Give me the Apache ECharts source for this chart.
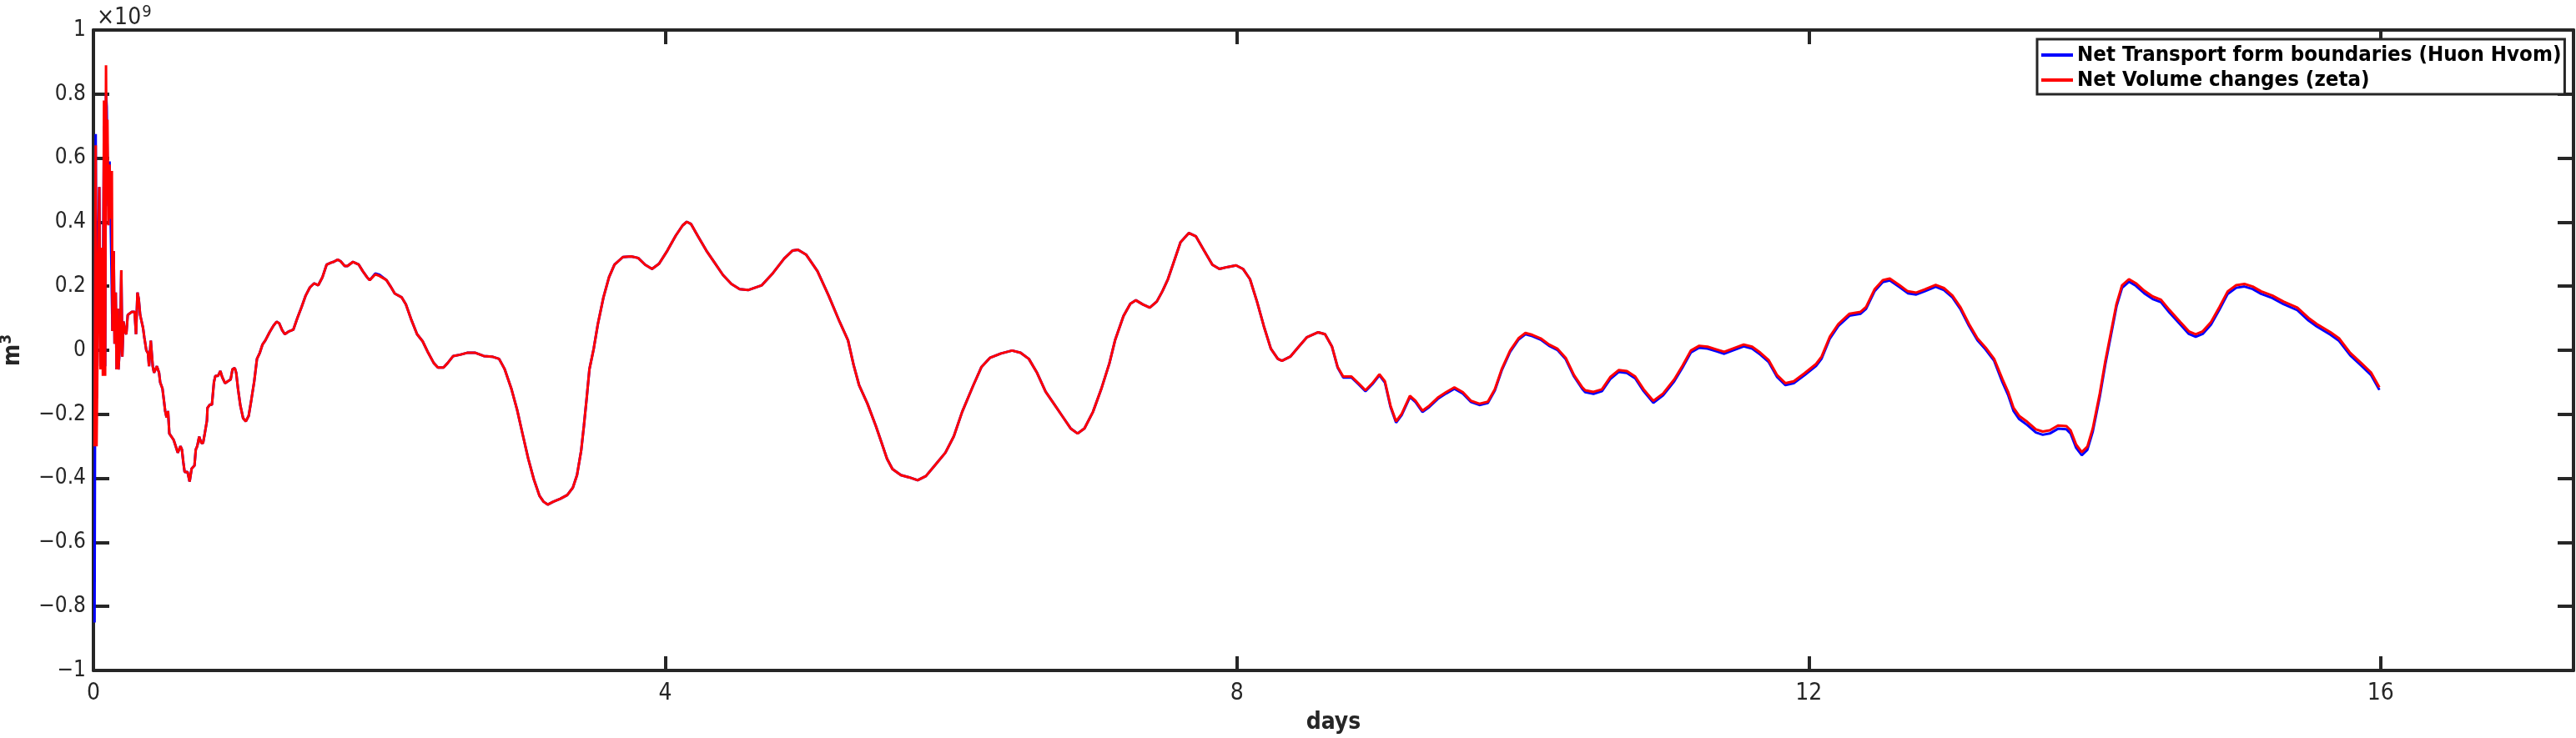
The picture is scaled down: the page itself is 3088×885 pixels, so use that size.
<!DOCTYPE html>
<html>
<head>
<meta charset="utf-8">
<script src="https://cdn.jsdelivr.net/npm/echarts@6/dist/echarts.min.js"></script>
<style>
html,body{margin:0;padding:0;background:#fff;}
#chart{width:3088px;height:885px;}
</style>
</head>
<body>
<div id="chart"></div>
<script>
// time in days
const days = [
0.008,0.016,0.022,0.031,0.041,0.049,0.058,0.066,0.074,0.082,
0.088,0.093,0.098,0.105,0.113,0.121,0.129,0.133,0.142,0.148,
0.156,0.162,0.171,0.175,0.187,0.195,0.202,0.210,0.220,0.230,
0.240,0.249,0.269,0.288,0.298,0.308,0.317,0.327,0.347,0.356,
0.370,0.382,0.389,0.401,0.415,0.424,0.444,0.459,0.467,0.483,
0.494,0.502,0.512,0.522,0.531,0.541,0.561,0.576,0.590,0.609,
0.619,0.629,0.638,0.658,0.673,0.687,0.707,0.716,0.726,0.740,
0.755,0.767,0.779,0.794,0.798,0.814,0.829,0.843,0.853,0.872,
0.888,0.901,0.921,0.940,0.960,0.973,0.989,0.999,1.012,1.028,
1.047,1.066,1.086,1.105,1.125,1.144,1.164,1.183,1.203,1.232,
1.257,1.281,1.300,1.320,1.339,1.368,1.398,1.427,1.456,1.485,
1.514,1.544,1.573,1.602,1.631,1.660,
1.680,1.709,1.729,1.758,1.777,1.816,1.855,1.884,1.914,1.933,
1.972,2.001,2.050,2.079,2.108,2.157,2.186,2.225,2.264,2.303,
2.342,2.381,2.410,2.449,2.478,2.517,2.565,2.614,2.672,2.731,
2.789,2.838,2.877,2.925,2.964,3.003,3.042,3.081,3.120,3.149,
3.178,3.217,3.266,3.315,3.354,3.383,3.412,3.431,3.451,3.470,
3.500,3.529,3.568,3.607,3.645,3.704,3.762,3.811,3.860,3.908,
3.957,4.015,4.074,4.122,4.151,4.181,4.229,4.288,4.346,4.404,
4.463,4.521,4.580,
4.676,4.754,4.832,4.890,4.929,4.987,5.065,5.143,5.221,5.279,
5.318,5.357,5.415,5.474,5.513,5.552,5.590,5.649,5.707,5.766,
5.824,5.882,5.960,6.019,6.077,6.155,6.213,6.271,6.349,6.427,
6.486,6.544,6.602,6.661,6.719,6.777,6.836,6.885,6.933,6.992,
7.050,7.108,7.147,7.206,7.254,7.293,7.342,7.390,7.439,7.478,
7.517,7.556,7.605,7.663,7.712,7.770,7.828,7.877,7.935,7.994,
8.042,8.091,8.140,8.188,8.237,8.286,8.315,8.373,8.432,8.490,
8.568,8.616,8.665,8.704,8.743,8.801,8.850,8.899,8.947,8.996,
9.035,9.074,9.113,9.152,9.210,9.249,9.298,9.346,9.405,9.463,
9.521,9.580,9.638,9.696,9.755,9.804,9.852,9.911,9.969,10.018,
10.066,10.125,10.183,10.241,10.300,10.358,10.416,
10.436,10.494,10.553,10.611,10.670,10.728,10.786,10.845,10.913,10.981,
11.059,11.117,11.175,11.234,11.292,11.351,11.409,11.467,11.545,11.604,
11.662,11.720,11.779,11.837,11.895,11.973,12.051,12.090,12.148,12.207,
12.285,12.363,12.401,12.460,12.518,12.567,12.635,12.693,12.752,12.810,
12.888,12.946,13.005,13.063,13.121,13.180,13.238,13.297,
13.355,13.394,13.433,13.472,13.530,13.589,13.637,13.686,13.744,13.803,
13.832,13.871,13.910,13.949,13.987,14.036,14.075,14.114,14.153,14.192,
14.240,14.289,14.347,14.406,14.464,14.523,14.600,14.659,14.707,14.756,
14.814,14.873,14.931,14.990,15.048,15.106,15.165,15.243,15.321,15.418,
15.496,15.554,15.651,15.710,15.788,15.865,15.933,15.992
];

// Net Volume changes (zeta), units of 1e9 m^3
const volumeE9 = [
-0.30,0.64,-0.30,0.11,0.51,-0.06,0.32,-0.08,0.78,-0.08,
0.89,0.47,0.72,0.39,0.58,0.41,0.56,0.06,0.31,0.02,
0.18,-0.06,0.13,-0.06,0.03,0.25,-0.02,0.09,0.06,0.05,
0.11,0.11,0.12,0.12,0.05,0.18,0.16,0.11,0.07,0.04,
0.00,-0.01,-0.05,0.03,-0.05,-0.07,-0.05,-0.07,-0.10,-0.12,
-0.16,-0.19,-0.21,-0.19,-0.26,-0.26,-0.28,-0.30,-0.32,-0.30,
-0.31,-0.35,-0.38,-0.38,-0.41,-0.37,-0.36,-0.31,-0.30,-0.27,
-0.29,-0.29,-0.26,-0.22,-0.18,-0.17,-0.17,-0.10,-0.08,-0.08,
-0.065,-0.084,-0.103,-0.097,-0.091,-0.059,-0.056,-0.071,-0.122,-0.173,
-0.212,-0.222,-0.205,-0.154,-0.097,-0.027,-0.008,0.018,0.031,0.056,
0.075,0.089,0.084,0.063,0.050,0.059,0.064,0.101,0.135,0.171,
0.196,0.209,0.203,0.228,0.267,0.273,
0.276,0.283,0.278,0.263,0.263,0.276,0.268,0.247,0.228,0.219,
0.237,0.232,0.219,0.199,0.177,0.165,0.143,0.094,0.050,0.028,
-0.008,-0.040,-0.054,-0.054,-0.040,-0.018,-0.014,-0.008,-0.008,-0.018,
-0.020,-0.027,-0.059,-0.122,-0.186,-0.263,-0.339,-0.403,-0.454,-0.473,
-0.482,-0.473,-0.464,-0.452,-0.429,-0.390,-0.314,-0.237,-0.148,-0.059,
0.005,0.082,0.165,0.228,0.267,0.291,0.293,0.288,0.267,0.254,
0.270,0.311,0.358,0.390,0.401,0.394,0.356,0.311,0.273,0.235,
0.207,0.191,0.188,
0.203,0.241,0.286,0.311,0.314,0.298,0.247,0.171,0.088,0.031,
-0.046,-0.110,-0.167,-0.237,-0.288,-0.339,-0.371,-0.390,-0.397,-0.406,
-0.393,-0.362,-0.320,-0.269,-0.193,-0.110,-0.052,-0.024,-0.010,-0.001,
-0.008,-0.027,-0.071,-0.129,-0.167,-0.205,-0.244,-0.260,-0.244,-0.193,
-0.122,-0.040,0.031,0.107,0.145,0.156,0.143,0.133,0.152,0.184,
0.222,0.273,0.337,0.366,0.356,0.311,0.267,0.254,0.260,0.265,
0.254,0.222,0.152,0.075,0.005,-0.027,-0.033,-0.020,0.011,0.041,
0.056,0.050,0.011,-0.052,-0.082,-0.082,-0.103,-0.125,-0.103,-0.075,
-0.097,-0.173,-0.222,-0.199,-0.142,-0.158,-0.189,-0.173,-0.148,-0.131,
-0.116,-0.131,-0.158,-0.167,-0.161,-0.122,-0.059,-0.001,0.037,0.054,
0.048,0.037,0.018,0.005,-0.024,-0.078,-0.116,
-0.125,-0.130,-0.122,-0.084,-0.062,-0.065,-0.082,-0.122,-0.158,-0.135,
-0.091,-0.048,-0.001,0.014,0.011,0.003,-0.005,0.005,0.018,0.011,
-0.008,-0.031,-0.078,-0.103,-0.097,-0.071,-0.043,-0.020,0.043,0.082,
0.114,0.120,0.135,0.190,0.219,0.224,0.203,0.184,0.180,0.190,
0.204,0.194,0.171,0.133,0.082,0.037,0.008,-0.027,
-0.090,-0.129,-0.180,-0.205,-0.224,-0.247,-0.254,-0.250,-0.235,-0.237,
-0.250,-0.295,-0.318,-0.301,-0.244,-0.135,-0.033,0.056,0.145,0.203,
0.222,0.209,0.186,0.168,0.158,0.126,0.088,0.059,0.050,0.059,
0.088,0.135,0.184,0.203,0.207,0.199,0.184,0.171,0.152,0.133,
0.101,0.082,0.056,0.037,-0.008,-0.040,-0.069,-0.116
];

// Net Transport form boundaries (Huon Hvom), units of 1e9 m^3
const transportE9 = [
-0.85,0.675,-0.15,0.30,0.51,-0.05,0.32,0.10,0.70,-0.05,
0.80,0.76,0.60,0.45,0.59,0.40,0.40,0.06,0.31,0.02,
0.18,-0.06,0.13,-0.06,0.03,0.25,-0.02,0.09,0.06,0.05,
0.11,0.11,0.12,0.12,0.05,0.18,0.16,0.11,0.07,0.04,
0.00,-0.01,-0.05,0.03,-0.05,-0.07,-0.05,-0.07,-0.10,-0.12,
-0.16,-0.19,-0.21,-0.19,-0.26,-0.26,-0.28,-0.30,-0.32,-0.30,
-0.31,-0.35,-0.38,-0.38,-0.41,-0.37,-0.36,-0.31,-0.30,-0.27,
-0.29,-0.29,-0.26,-0.22,-0.18,-0.17,-0.17,-0.10,-0.08,-0.08,
-0.065,-0.084,-0.103,-0.097,-0.091,-0.059,-0.056,-0.071,-0.122,-0.173,
-0.212,-0.222,-0.205,-0.154,-0.097,-0.027,-0.008,0.018,0.031,0.056,
0.075,0.089,0.084,0.063,0.050,0.059,0.064,0.101,0.135,0.171,
0.196,0.209,0.203,0.228,0.267,0.273,
0.276,0.283,0.278,0.263,0.263,0.276,0.268,0.247,0.228,0.219,
0.240,0.236,0.219,0.199,0.177,0.165,0.143,0.094,0.050,0.028,
-0.008,-0.040,-0.054,-0.054,-0.040,-0.018,-0.014,-0.008,-0.008,-0.018,
-0.020,-0.027,-0.059,-0.122,-0.186,-0.263,-0.339,-0.403,-0.454,-0.473,
-0.482,-0.473,-0.464,-0.452,-0.429,-0.390,-0.314,-0.237,-0.148,-0.059,
0.005,0.082,0.165,0.228,0.267,0.291,0.293,0.288,0.267,0.254,
0.270,0.311,0.358,0.390,0.401,0.394,0.356,0.311,0.273,0.235,
0.207,0.191,0.188,
0.203,0.241,0.286,0.311,0.314,0.298,0.247,0.171,0.088,0.031,
-0.046,-0.110,-0.167,-0.237,-0.288,-0.339,-0.371,-0.390,-0.397,-0.406,
-0.393,-0.362,-0.320,-0.269,-0.193,-0.110,-0.052,-0.024,-0.010,-0.001,
-0.008,-0.027,-0.071,-0.129,-0.167,-0.205,-0.244,-0.260,-0.244,-0.193,
-0.122,-0.040,0.031,0.107,0.145,0.156,0.143,0.133,0.152,0.184,
0.222,0.273,0.337,0.366,0.356,0.311,0.267,0.254,0.260,0.265,
0.254,0.222,0.152,0.075,0.005,-0.027,-0.033,-0.020,0.011,0.041,
0.056,0.050,0.011,-0.054,-0.085,-0.085,-0.106,-0.128,-0.106,-0.078,
-0.101,-0.177,-0.226,-0.203,-0.146,-0.162,-0.193,-0.177,-0.152,-0.135,
-0.120,-0.135,-0.162,-0.171,-0.165,-0.126,-0.063,-0.005,0.033,0.050,
0.044,0.033,0.014,0.001,-0.028,-0.082,-0.121,
-0.131,-0.136,-0.128,-0.090,-0.068,-0.071,-0.088,-0.128,-0.164,-0.141,
-0.097,-0.054,-0.007,0.008,0.005,-0.003,-0.011,-0.001,0.012,0.005,
-0.014,-0.037,-0.084,-0.109,-0.103,-0.077,-0.049,-0.026,0.037,0.076,
0.108,0.114,0.129,0.184,0.213,0.218,0.197,0.178,0.174,0.184,
0.198,0.188,0.165,0.127,0.076,0.031,0.002,-0.033,
-0.100,-0.139,-0.190,-0.215,-0.234,-0.257,-0.264,-0.260,-0.245,-0.247,
-0.260,-0.305,-0.328,-0.311,-0.254,-0.145,-0.043,0.046,0.137,0.195,
0.214,0.201,0.178,0.160,0.150,0.118,0.080,0.051,0.042,0.051,
0.080,0.127,0.176,0.195,0.199,0.191,0.176,0.163,0.144,0.125,
0.093,0.074,0.048,0.029,-0.016,-0.048,-0.077,-0.124
];

const xTicks = [0, 4, 8, 12, 16];
const xRange = [0, 17.35];
const yRange = [-1, 1];
const yStep = 0.2;
const seriesNames = ['Net Transport form boundaries (Huon Hvom)', 'Net Volume changes (zeta)'];

const FONT = "'DejaVu Sans Condensed', 'DejaVu Sans', sans-serif";
const AX = '#262626';

function pairs(xs, ys) { return xs.map((x, i) => [x, ys[i]]); }

const chart = echarts.init(document.getElementById('chart'), null, {renderer: 'canvas'});

const axisLine = {show: true, onZero: false, lineStyle: {color: AX, width: 4}};
const tickStyle = {color: AX, width: 4};

chart.setOption({
  animation: false,
  backgroundColor: '#ffffff',
  title: {
    left: 116, top: 5,
    text: '{x|×10}{e|9}',
    textStyle: {
      fontWeight: 'normal',
      rich: {
        x: {fontFamily: FONT, fontSize: 28, fontWeight: 'normal', color: AX},
        e: {fontFamily: FONT, fontSize: 20, fontWeight: 'normal', color: AX, padding: [0,0,13,1]}
      }
    },
    padding: 0
  },
  legend: {
    left: 2442, top: 47,
    orient: 'vertical',
    padding: [6, 4, 4, 5],
    itemGap: 4,
    itemWidth: 38, itemHeight: 4,
    icon: 'rect',
    backgroundColor: '#ffffff',
    borderColor: AX, borderWidth: 3, borderRadius: 0,
    textStyle: {fontFamily: FONT, fontSize: 25.6, fontWeight: 'bold', color: '#000', lineHeight: 26},
    data: seriesNames
  },
  grid: {left: 112, right: 3, top: 36, bottom: 81, containLabel: false, outerBoundsMode: 'none'},
  xAxis: [{
    type: 'value', position: 'bottom', min: xRange[0], max: xRange[1],
    axisLine: axisLine,
    axisTick: {show: true, inside: true, length: 17, customValues: xTicks, lineStyle: tickStyle},
    axisLabel: {show: true, customValues: xTicks, margin: 14, fontFamily: FONT, fontSize: 28, color: AX},
    splitLine: {show: false},
    name: 'days', nameLocation: 'middle', nameGap: 49,
    nameTextStyle: {fontFamily: FONT, fontSize: 28, fontWeight: 'bold', color: AX}
  }, {
    type: 'value', position: 'top', min: xRange[0], max: xRange[1],
    axisLine: axisLine,
    axisTick: {show: true, inside: true, length: 17, customValues: xTicks, lineStyle: tickStyle},
    axisLabel: {show: false},
    splitLine: {show: false}
  }],
  yAxis: [{
    type: 'value', position: 'left', min: yRange[0], max: yRange[1], interval: yStep,
    axisLine: axisLine,
    axisTick: {show: true, inside: true, length: 19, lineStyle: tickStyle},
    axisLabel: {show: true, margin: 9, fontFamily: FONT, fontSize: 26, color: AX,
      formatter: v => String(Math.round(v * 10) / 10).replace('-', '\u2212')},
    splitLine: {show: false},
    name: '{m|m}{s|3}', nameLocation: 'middle', nameGap: 80, nameRotate: 90,
    nameTextStyle: {
      rich: {
        m: {fontFamily: FONT, fontSize: 28, fontWeight: 'bold', color: AX},
        s: {fontFamily: FONT, fontSize: 19, fontWeight: 'bold', color: AX, padding: [0,0,14,0]}
      }
    }
  }, {
    type: 'value', position: 'right', min: yRange[0], max: yRange[1], interval: yStep,
    axisLine: axisLine,
    axisTick: {show: true, inside: true, length: 19, lineStyle: tickStyle},
    axisLabel: {show: false},
    splitLine: {show: false}
  }],
  series: [{
    name: seriesNames[0], type: 'line', xAxisIndex: 0, yAxisIndex: 0,
    showSymbol: false, symbol: 'none',
    lineStyle: {color: '#0000ff', width: 3}, itemStyle: {color: '#0000ff'},
    data: pairs(days, transportE9)
  }, {
    name: seriesNames[1], type: 'line', xAxisIndex: 0, yAxisIndex: 0,
    showSymbol: false, symbol: 'none',
    lineStyle: {color: '#ff0000', width: 3}, itemStyle: {color: '#ff0000'},
    data: pairs(days, volumeE9)
  }]
});
</script>
</body>
</html>
